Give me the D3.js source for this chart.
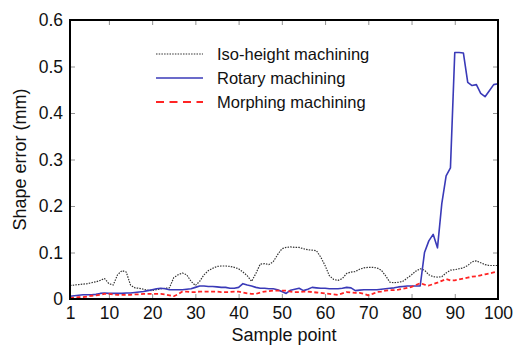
<!DOCTYPE html>
<html>
<head>
<meta charset="utf-8">
<script src="https://cdn.jsdelivr.net/npm/d3@7"></script>
<style>
  body { margin: 0; background: #fff; }
  svg text { font-family: Arial, "Liberation Sans", sans-serif; fill: #111; }
</style>
</head>
<body>
<div id="chart"></div>
<script>
// sample points 1..100
const samplePoints = d3.range(1, 101);

const isoHeight = [
  0.029, 0.030, 0.031, 0.032, 0.033, 0.035, 0.037, 0.040, 0.044, 0.033,
  0.030, 0.052, 0.061, 0.058, 0.030, 0.024, 0.023, 0.021, 0.019, 0.018,
  0.020, 0.022, 0.023, 0.024, 0.046, 0.052, 0.056, 0.052, 0.038, 0.029,
  0.038, 0.052, 0.061, 0.066, 0.070, 0.071, 0.071, 0.070, 0.068, 0.065,
  0.058, 0.050, 0.038, 0.055, 0.075, 0.076, 0.074, 0.080, 0.095, 0.108,
  0.111, 0.112, 0.111, 0.111, 0.108, 0.106, 0.105, 0.104, 0.090, 0.072,
  0.050, 0.042, 0.040, 0.044, 0.055, 0.058, 0.059, 0.064, 0.067, 0.068,
  0.068, 0.067, 0.062, 0.050, 0.036, 0.035, 0.036, 0.038, 0.045, 0.052,
  0.060, 0.065, 0.062, 0.052, 0.048, 0.047, 0.048, 0.056, 0.062, 0.063,
  0.065, 0.067, 0.072, 0.080, 0.082, 0.078, 0.074, 0.072, 0.072, 0.072
];

const rotary = [
  0.006, 0.007, 0.008, 0.009, 0.009, 0.009, 0.010, 0.012, 0.013, 0.012,
  0.012, 0.012, 0.012, 0.013, 0.013, 0.014, 0.015, 0.016, 0.018, 0.020,
  0.022, 0.023, 0.022, 0.020, 0.020, 0.020, 0.020, 0.021, 0.022, 0.025,
  0.028, 0.028, 0.027, 0.027, 0.026, 0.025, 0.025, 0.023, 0.023, 0.025,
  0.033, 0.030, 0.028, 0.025, 0.023, 0.023, 0.022, 0.022, 0.020, 0.016,
  0.012, 0.019, 0.021, 0.023, 0.018, 0.021, 0.025, 0.024, 0.023, 0.023,
  0.022, 0.022, 0.022, 0.023, 0.025, 0.024, 0.018, 0.019, 0.020, 0.020,
  0.020, 0.020, 0.021, 0.022, 0.023, 0.024, 0.026, 0.027, 0.028, 0.028,
  0.028, 0.028, 0.100, 0.125, 0.139, 0.110, 0.205, 0.265, 0.282, 0.530,
  0.530, 0.529, 0.466, 0.459, 0.461, 0.442, 0.435, 0.448, 0.461, 0.463
];

const morphing = [
  0.002, 0.003, 0.004, 0.004, 0.005, 0.007, 0.008, 0.009, 0.011, 0.011,
  0.010, 0.009, 0.009, 0.009, 0.009, 0.010, 0.010, 0.011, 0.011, 0.011,
  0.011, 0.011, 0.010, 0.008, 0.006, 0.010, 0.016, 0.016, 0.015, 0.015,
  0.016, 0.016, 0.016, 0.016, 0.016, 0.015, 0.015, 0.015, 0.016, 0.016,
  0.014, 0.012, 0.011, 0.011, 0.014, 0.016, 0.017, 0.018, 0.018, 0.018,
  0.018, 0.016, 0.015, 0.015, 0.016, 0.016, 0.015, 0.014, 0.013, 0.012,
  0.011, 0.010, 0.009, 0.012, 0.015, 0.014, 0.013, 0.013, 0.011, 0.008,
  0.011, 0.015, 0.016, 0.018, 0.019, 0.019, 0.020, 0.022, 0.024, 0.026,
  0.030, 0.034, 0.031, 0.029, 0.032, 0.035, 0.039, 0.043, 0.040, 0.040,
  0.042, 0.044, 0.046, 0.048, 0.049, 0.051, 0.053, 0.055, 0.057, 0.059
];

const xTicks = [1, 10, 20, 30, 40, 50, 60, 70, 80, 90, 100];
const yTicks = [0, 0.1, 0.2, 0.3, 0.4, 0.5, 0.6];

const series = [
  { name: 'Iso-height machining', values: isoHeight, color: '#333', width: 1.2, dash: '1.5,1.2' },
  { name: 'Rotary machining', values: rotary, color: '#3a3ab8', width: 1.6, dash: null },
  { name: 'Morphing machining', values: morphing, color: '#ff2424', width: 1.8, dash: '4,2.5' }
];

const W = 513, H = 347;
const margin = { top: 20, right: 15, bottom: 48, left: 70 };
const width = W - margin.left - margin.right;
const height = H - margin.top - margin.bottom;

const svg = d3.select('#chart').append('svg')
  .attr('width', W)
  .attr('height', H);

const g = svg.append('g')
  .attr('transform', `translate(${margin.left},${margin.top})`);

const x = d3.scaleLinear().domain([1, 100]).range([0, width]);
const y = d3.scaleLinear().domain([0, 0.6]).range([height, 0]);

// inward ticks on all four sides
const tickLen = 5;
const tickStyle = sel => {
  sel.select('.domain').remove();
  sel.selectAll('.tick line').attr('stroke', '#777').attr('stroke-width', 0.8);
};

g.append('g')
  .attr('transform', `translate(0,${height})`)
  .call(d3.axisBottom(x).tickValues(xTicks).tickSize(-tickLen).tickPadding(8).tickFormat(d3.format('d')))
  .call(tickStyle)
  .call(s => s.selectAll('text').attr('font-size', 17.5).attr('fill', '#111'));

g.append('g')
  .call(d3.axisTop(x).tickValues(xTicks).tickSize(-tickLen).tickFormat(''))
  .call(tickStyle);

g.append('g')
  .call(d3.axisLeft(y).tickValues(yTicks).tickSize(-tickLen).tickPadding(7).tickFormat(d => d === 0 ? '0' : d3.format('.1f')(d)))
  .call(tickStyle)
  .call(s => s.selectAll('text').attr('font-size', 17.5).attr('fill', '#111'));

g.append('g')
  .attr('transform', `translate(${width},0)`)
  .call(d3.axisRight(y).tickValues(yTicks).tickSize(-tickLen).tickFormat(''))
  .call(tickStyle);

const line = d3.line()
  .x((d, i) => x(samplePoints[i]))
  .y(d => y(d));

g.append('g')
  .selectAll('path')
  .data(series)
  .enter().append('path')
  .attr('d', d => line(d.values))
  .attr('fill', 'none')
  .attr('stroke', d => d.color)
  .attr('stroke-width', d => d.width)
  .attr('stroke-dasharray', d => d.dash)
  .attr('stroke-linejoin', 'round');

// frame
g.append('rect')
  .attr('width', width)
  .attr('height', height)
  .attr('fill', 'none')
  .attr('stroke', '#000')
  .attr('stroke-width', 2);

// legend
const legend = g.append('g').attr('transform', 'translate(86,34)');
const rows = legend.selectAll('g')
  .data(series)
  .enter().append('g')
  .attr('transform', (d, i) => `translate(0,${i * 24})`);

rows.append('line')
  .attr('x1', 0).attr('x2', 47)
  .attr('stroke', d => d.color)
  .attr('stroke-width', d => d.width)
  .attr('stroke-dasharray', (d, i) => i === 2 ? '8,5.5' : d.dash);

rows.append('text')
  .attr('x', 61)
  .attr('dy', '0.35em')
  .attr('font-size', 16.5)
  .text(d => d.name);

// axis titles
svg.append('text')
  .attr('x', margin.left + x(50.5))
  .attr('y', 341)
  .attr('text-anchor', 'middle')
  .attr('font-size', 18)
  .text('Sample point');

svg.append('text')
  .attr('transform', `translate(20,${margin.top + height / 2}) rotate(-90)`)
  .attr('text-anchor', 'middle')
  .attr('dy', '0.35em')
  .attr('font-size', 18)
  .text('Shape error (mm)');
</script>
</body>
</html>
